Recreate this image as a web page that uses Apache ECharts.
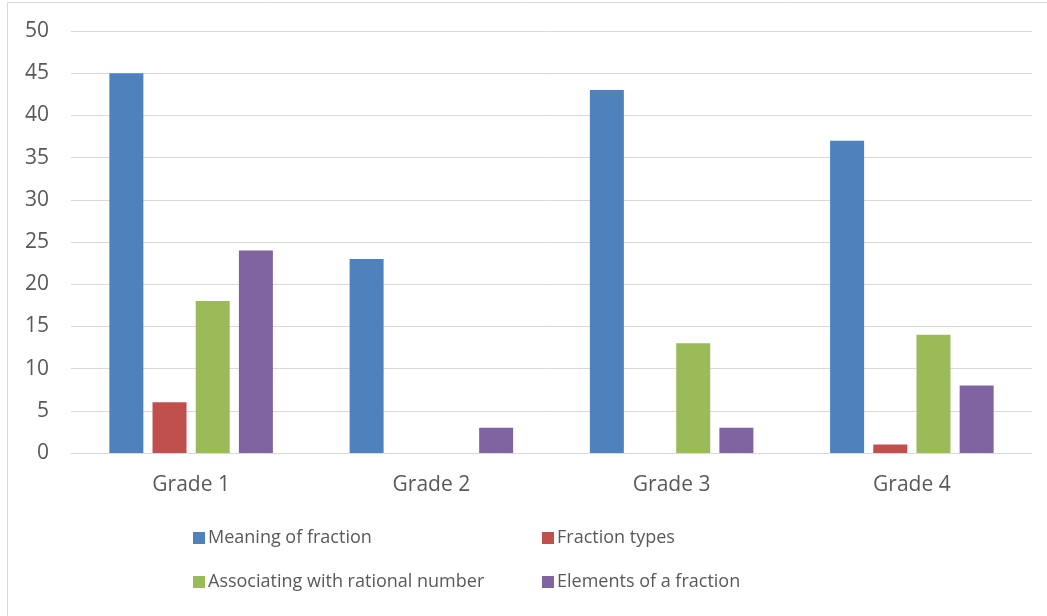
<!DOCTYPE html>
<html>
<head>
<meta charset="utf-8">
<script src="https://cdn.jsdelivr.net/npm/echarts@6/dist/echarts.min.js"></script>
<style>
  html, body { margin: 0; padding: 0; background: #fff; }
  #chart { width: 1047px; height: 616px; }
</style>
</head>
<body>
<div id="chart"></div>
<script>
// categories + series values
const grades = ["Grade 1", "Grade 2", "Grade 3", "Grade 4"];
const meaningOfFraction = [45, 23, 43, 37];
const fractionTypes = [6, 0, 0, 1];
const associatingRational = [18, 0, 13, 14];
const elementsOfFraction = [24, 3, 3, 8];
const seriesNames = [
  "Meaning of fraction",
  "Fraction types",
  "Associating with rational number",
  "Elements of a fraction"
];
const colors = ["#4F81BD", "#C0504D", "#9BBB59", "#8064A2"];

const font = "'Open Sans', 'Liberation Sans', sans-serif";
const textColor = "#595959";

const chart = echarts.init(document.getElementById("chart"), null, { renderer: "canvas" });

// legend placed like the original: 2 rows, 2 columns
const legendPos = [
  { left: 193, top: 524 },
  { left: 542, top: 524 },
  { left: 193, top: 568 },
  { left: 542, top: 568 }
];
const legends = seriesNames.map((name, i) => ({
  data: [name],
  left: legendPos[i].left,
  top: legendPos[i].top,
  padding: [5, 0, 5, 0],
  itemWidth: 12,
  itemHeight: 12,
  itemGap: 4,
  icon: "rect",
  selectedMode: false,
  textStyle: { color: textColor, fontSize: 18, fontFamily: font, padding: [0, 0, 0, -2] }
}));

const seriesData = [meaningOfFraction, fractionTypes, associatingRational, elementsOfFraction];

chart.setOption({
  animation: false,
  color: colors,
  graphic: [
    {
      type: "rect",
      shape: { x: 7.5, y: 2.5, width: 1100, height: 700 },
      style: { fill: "none", stroke: "#D9D9D9", lineWidth: 1 },
      silent: true
    }
  ],
  legend: legends,
  grid: { left: 71, right: 15, top: 31, bottom: 163 },
  xAxis: {
    type: "category",
    data: grades,
    axisLine: { show: true, lineStyle: { color: "#D9D9D9", width: 1 } },
    axisTick: { show: false },
    axisLabel: { color: textColor, fontSize: 21, fontFamily: font, margin: 22 }
  },
  yAxis: {
    type: "value",
    min: 0,
    max: 50,
    interval: 5,
    axisLine: { show: false },
    axisTick: { show: false },
    splitLine: { lineStyle: { color: "#D9D9D9", width: 1 } },
    axisLabel: { color: textColor, fontSize: 21, fontFamily: font, margin: 22 }
  },
  series: seriesData.map((d, i) => ({
    name: seriesNames[i],
    type: "bar",
    data: d,
    barWidth: 34,
    barGap: "27%",
    itemStyle: { color: colors[i] }
  }))
});
</script>
</body>
</html>
